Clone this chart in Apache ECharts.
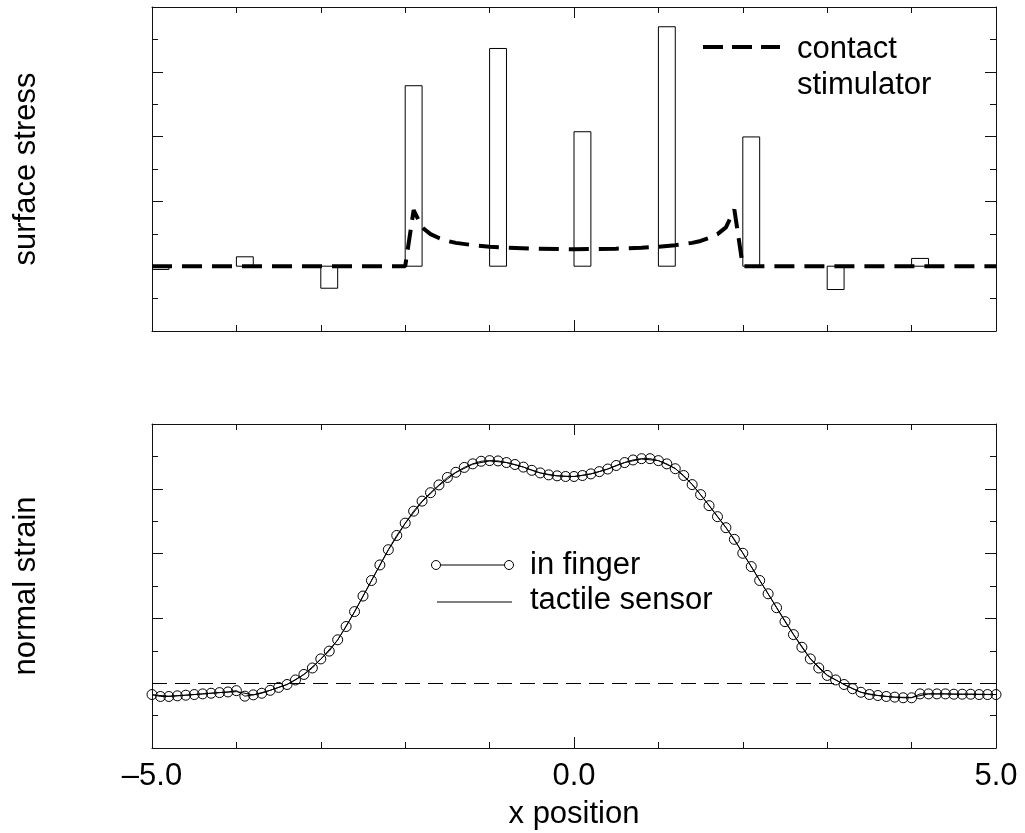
<!DOCTYPE html>
<html>
<head>
<meta charset="utf-8">
<script src="https://cdn.jsdelivr.net/npm/echarts@6/dist/echarts.min.js"></script>
<style>
  html, body { margin: 0; padding: 0; background: #fff; }
  #chart { width: 1025px; height: 833px; }
</style>
</head>
<body>
<div id="chart"></div>
<script>
// Upper panel: surface stress (bars) and the contact stimulator profile.
const barX = [-5, -4, -3, -2, -1, 0, 1, 2, 3, 4];
const barStress = [-0.1, 0.29, -0.68, 5.57, 6.72, 4.15, 7.39, 3.99, -0.72, 0.24];

const stimX = [-5, -2, -1.9, -1.8, -1.7, -1.6, -1.5, -1.4, -1.2, -1.0, -0.8, -0.5, 0,
  0.5, 0.8, 1.0, 1.2, 1.4, 1.5, 1.6, 1.7, 1.8, 1.9, 2.0, 5];
const stimStress = [0, 0, 1.73, 1.2, 0.99, 0.87, 0.78, 0.72, 0.65, 0.6, 0.57, 0.54, 0.52,
  0.54, 0.57, 0.6, 0.65, 0.72, 0.78, 0.87, 0.99, 1.2, 1.75, 0, 0];

// Lower panel: normal strain in finger (circles) and tactile sensor (thin line).
const fingerX = [
  -5.0, -4.9, -4.8, -4.7, -4.6, -4.5, -4.4, -4.3, -4.2, -4.1,
  -4.0, -3.9, -3.8, -3.7, -3.6, -3.5, -3.4, -3.3, -3.2, -3.1,
  -3.0, -2.9, -2.8, -2.7, -2.6, -2.5, -2.4, -2.3, -2.2, -2.1,
  -2.0, -1.9, -1.8, -1.7, -1.6, -1.5, -1.4, -1.3, -1.2, -1.1,
  -1.0, -0.9, -0.8, -0.7, -0.6, -0.5, -0.4, -0.3, -0.2, -0.1,
  0.0, 0.1, 0.2, 0.3, 0.4, 0.5, 0.6, 0.7, 0.8, 0.9,
  1.0, 1.1, 1.2, 1.3, 1.4, 1.5, 1.6, 1.7, 1.8, 1.9,
  2.0, 2.1, 2.2, 2.3, 2.4, 2.5, 2.6, 2.7, 2.8, 2.9,
  3.0, 3.1, 3.2, 3.3, 3.4, 3.5, 3.6, 3.7, 3.8, 3.9,
  4.0, 4.1, 4.2, 4.3, 4.4, 4.5, 4.6, 4.7, 4.8, 4.9, 5.0
];
const fingerStrain = [
  -0.35, -0.41, -0.41, -0.39, -0.37, -0.35, -0.33, -0.31, -0.29, -0.27,
  -0.23, -0.40, -0.36, -0.31, -0.22, -0.13, -0.04, 0.10, 0.27, 0.47,
  0.75, 0.99, 1.34, 1.75, 2.21, 2.69, 3.17, 3.65, 4.12, 4.56,
  4.94, 5.31, 5.62, 5.88, 6.12, 6.35, 6.51, 6.66, 6.77, 6.85,
  6.87, 6.86, 6.81, 6.75, 6.67, 6.57, 6.49, 6.43, 6.40, 6.38,
  6.38, 6.41, 6.46, 6.53, 6.61, 6.72, 6.81, 6.89, 6.93, 6.93,
  6.87, 6.77, 6.62, 6.41, 6.13, 5.82, 5.48, 5.14, 4.80, 4.44,
  4.01, 3.60, 3.17, 2.76, 2.33, 1.90, 1.50, 1.11, 0.75, 0.47,
  0.24, 0.10, -0.04, -0.17, -0.28, -0.35, -0.38, -0.41, -0.43, -0.45,
  -0.45, -0.33, -0.33, -0.33, -0.33, -0.34, -0.34, -0.34, -0.35, -0.35, -0.35
];

const sensorX = [
  -5.0, -4.8, -4.6, -4.4, -4.2, -4.0, -3.8, -3.6, -3.4, -3.2,
  -3.0, -2.8, -2.6, -2.4, -2.2, -2.0, -1.8, -1.6, -1.4, -1.2,
  -1.0, -0.8, -0.6, -0.4, -0.2, 0.0, 0.2, 0.4, 0.6, 0.8,
  1.0, 1.2, 1.4, 1.6, 1.8, 2.0, 2.2, 2.4, 2.6, 2.8,
  3.0, 3.2, 3.4, 3.6, 3.8, 4.0, 4.2, 4.4, 4.6, 4.8, 5.0
];
const sensorStrain = [
  -0.36, -0.40, -0.37, -0.33, -0.29, -0.26, -0.36, -0.22, -0.04, 0.27,
  0.74, 1.33, 2.20, 3.16, 4.11, 4.93, 5.60, 6.10, 6.50, 6.76,
  6.86, 6.81, 6.67, 6.49, 6.40, 6.38, 6.46, 6.61, 6.81, 6.92,
  6.87, 6.63, 6.14, 5.49, 4.81, 4.02, 3.18, 2.34, 1.51, 0.76,
  0.25, -0.04, -0.28, -0.38, -0.43, -0.44, -0.33, -0.33, -0.34, -0.34, -0.35
];

// Only the bottom axis of the lower panel is labelled.
const xTickValues = [-5, 0, 5];
const xTickLabels = ["\u20135.0", "0.0", "5.0"];

const FONT = "'Liberation Sans', Arial, Helvetica, sans-serif";
const FONT_SIZE = 31;
const AXIS_COLOR = "#111";
const BAR_SPAN = 0.2;

let pairs = (xs, ys) => xs.map((x, i) => [x, ys[i]]);

let xAxisFor = (gridIndex, position, labelled) => ({
  type: "value",
  gridIndex: gridIndex,
  position: position,
  min: -5,
  max: 5,
  interval: 5,
  axisLine: { show: true, onZero: false, lineStyle: { color: AXIS_COLOR, width: 1 } },
  axisTick: { show: true, inside: true, length: 11, lineStyle: { color: AXIS_COLOR, width: 1 } },
  minorTick: { show: true, splitNumber: 5, length: 6, lineStyle: { color: AXIS_COLOR, width: 1 } },
  splitLine: { show: false },
  minorSplitLine: { show: false },
  axisLabel: {
    show: labelled,
    margin: 13,
    color: "#000",
    fontFamily: FONT,
    fontSize: FONT_SIZE,
    formatter: (v) => {
      let i = xTickValues.indexOf(v);
      return i >= 0 ? xTickLabels[i] : "";
    },
  },
  name: labelled ? "x position" : "",
  nameLocation: "middle",
  nameGap: 51,
  nameTextStyle: { color: "#000", fontFamily: FONT, fontSize: FONT_SIZE },
});

let yAxisFor = (gridIndex, position, name) => ({
  type: "value",
  gridIndex: gridIndex,
  position: position,
  min: -2,
  max: 8,
  interval: 2,
  axisLine: { show: true, onZero: false, lineStyle: { color: AXIS_COLOR, width: 1 } },
  axisTick: { show: true, inside: true, length: 11, lineStyle: { color: AXIS_COLOR, width: 1 } },
  minorTick: { show: true, splitNumber: 2, length: 6, lineStyle: { color: AXIS_COLOR, width: 1 } },
  splitLine: { show: false },
  minorSplitLine: { show: false },
  axisLabel: { show: false },
  name: name,
  nameLocation: "middle",
  nameGap: 110,
  nameTextStyle: { color: "#000", fontFamily: FONT, fontSize: FONT_SIZE },
});

// Open rectangles starting at each x and extending BAR_SPAN to the right.
let renderBar = (params, api) => {
  let x0 = api.value(0);
  let base = api.coord([x0, 0]);
  let tip = api.coord([x0 + BAR_SPAN, api.value(1)]);
  return {
    type: "rect",
    shape: {
      x: base[0],
      y: Math.min(base[1], tip[1]),
      width: tip[0] - base[0],
      height: Math.abs(tip[1] - base[1]),
    },
    style: { fill: "none", stroke: "#000", lineWidth: 1 },
  };
};

let legendText = (x, y, text) => ({
  type: "text",
  x: x,
  y: y,
  style: { text: text, fill: "#000", font: FONT_SIZE + "px " + FONT, textVerticalAlign: "middle", textAlign: "left" },
});

let chart = echarts.init(document.getElementById("chart"), null, { renderer: "canvas" });

chart.setOption({
  animation: false,
  backgroundColor: "#fff",
  grid: [
    { left: 152, top: 7, width: 844, height: 324 },
    { left: 152, top: 424, width: 844, height: 324 },
  ],
  xAxis: [
    xAxisFor(0, "bottom", false),
    xAxisFor(0, "top", false),
    xAxisFor(1, "bottom", true),
    xAxisFor(1, "top", false),
  ],
  yAxis: [
    yAxisFor(0, "left", "surface stress"),
    yAxisFor(0, "right", ""),
    yAxisFor(1, "left", "normal strain"),
    yAxisFor(1, "right", ""),
  ],
  series: [
    {
      name: "surface stress",
      type: "custom",
      xAxisIndex: 0,
      yAxisIndex: 0,
      clip: true,
      renderItem: renderBar,
      encode: { x: 0, y: 1 },
      data: pairs(barX, barStress),
      z: 2,
    },
    {
      name: "contact stimulator",
      type: "line",
      xAxisIndex: 0,
      yAxisIndex: 0,
      symbol: "none",
      lineStyle: { color: "#000", width: 4, type: [20, 10], cap: "butt" },
      data: pairs(stimX, stimStress),
      z: 3,
    },
    {
      name: "tactile sensor",
      type: "line",
      xAxisIndex: 2,
      yAxisIndex: 2,
      symbol: "none",
      lineStyle: { color: "#000", width: 1 },
      data: pairs(sensorX, sensorStrain),
      markLine: {
        silent: true,
        symbol: "none",
        label: { show: false },
        lineStyle: { color: "#000", width: 1, type: [15, 8] },
        data: [{ yAxis: 0 }],
      },
      z: 2,
    },
    {
      name: "in finger",
      type: "line",
      xAxisIndex: 2,
      yAxisIndex: 2,
      symbol: "circle",
      symbolSize: 10,
      itemStyle: { color: "rgba(0,0,0,0)", borderColor: "#000", borderWidth: 1 },
      lineStyle: { color: "#000", width: 1 },
      data: pairs(fingerX, fingerStrain),
      z: 3,
    },
  ],
  graphic: [
    // legend of the upper panel
    {
      type: "line",
      shape: { x1: 703, y1: 47, x2: 780, y2: 47 },
      style: { stroke: "#000", lineWidth: 4, lineDash: [20, 9] },
    },
    legendText(797, 49, "contact"),
    legendText(797, 85, "stimulator"),
    // legend of the lower panel
    {
      type: "line",
      shape: { x1: 436, y1: 565, x2: 509, y2: 565 },
      style: { stroke: "#000", lineWidth: 1 },
    },
    { type: "circle", shape: { cx: 436, cy: 565, r: 4.5 }, style: { fill: "#fff", stroke: "#000", lineWidth: 1 } },
    { type: "circle", shape: { cx: 509, cy: 565, r: 4.5 }, style: { fill: "#fff", stroke: "#000", lineWidth: 1 } },
    {
      type: "line",
      shape: { x1: 437, y1: 602, x2: 512, y2: 602 },
      style: { stroke: "#000", lineWidth: 1 },
    },
    legendText(530, 565, "in finger"),
    legendText(530, 600, "tactile sensor"),
  ],
});
</script>
</body>
</html>
